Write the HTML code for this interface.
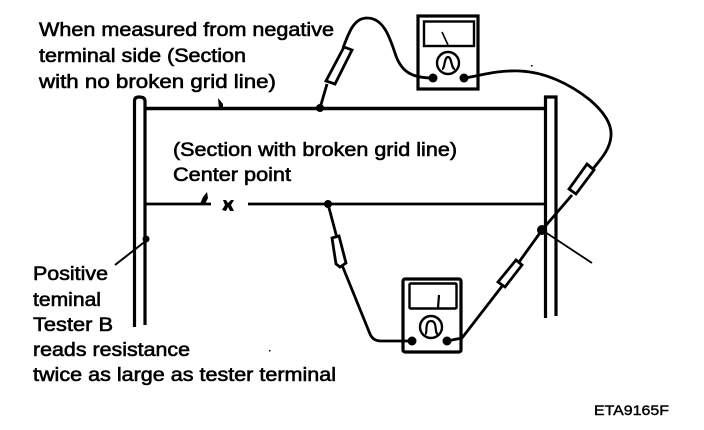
<!DOCTYPE html>
<html>
<head>
<meta charset="utf-8">
<style>
html,body{margin:0;padding:0;background:#fff;width:704px;height:430px;overflow:hidden}
svg{display:block}
text{font-family:"Liberation Sans",sans-serif;font-size:19.5px;fill:#000;stroke:#000;stroke-width:.6px}
</style>
</head>
<body>
<svg width="704" height="430" viewBox="0 0 704 430" xmlns="http://www.w3.org/2000/svg">
<rect width="704" height="430" fill="#fff"/>
<g fill="none" stroke="#000" stroke-width="3">
  <!-- bars -->
  <path d="M134.500 327V101Q134.500 97 139 97Q145 97 145 101V325" stroke-width="3.200"/>
  <path d="M545.500 318V97H556V316" stroke-width="3.200"/>
  <!-- grid lines -->
  <path d="M146 108.500H545" stroke-width="3.400"/>
  <path d="M146 204H211M248 204H545" stroke-width="2.800"/>
  <!-- upper meter wires -->
  <path d="M433 78C412 78 402 72 396 56C390 38 384 18 367 18C354 18 349 32 343 48" stroke-width="2.800"/>
  <path d="M327 84L320 108" stroke-width="2.800"/>
  <path d="M464 78C480 76 495 70 520 71C545 72 570 84 590 100C604 112 612 124 611 136C610 150 600 160 592 170" stroke-width="2.800"/>
  <path d="M572 195L542 230L504 283M520 263L462 338L447 341" stroke-width="2.800"/>
  <!-- lower meter wire -->
  <path d="M328 204L337 238M342 265L370 334Q373 341 381 341H412" stroke-width="2.800"/>
  <!-- probes -->
  <path d="M344 47L352 50L335 84L326 81Z" fill="#fff" stroke-width="2.800"/>
  <path d="M332 238L339 236L346 263L340 267L336 264Z" fill="#fff" stroke-width="2.800"/>
  <path d="M516 260L522 265L505 287L498 282Z" fill="#fff" stroke-width="2.800"/>
  <path d="M587 164L594 170L576 194L569 189Z" fill="#fff" stroke-width="2.800"/>
  <!-- leaders -->
  <path d="M542 230L592 263" stroke-width="1.800"/>
  <path d="M147 240L115 265" stroke-width="2"/>
  <!-- upper meter -->
  <rect x="418" y="16" width="60" height="73" stroke-width="3.200"/>
  <rect x="424" y="21.500" width="50" height="24.500" stroke-width="2.400"/>
  <path d="M442 32L448 45" stroke-width="1.600"/>
  <circle cx="448" cy="63" r="11" stroke-width="2.400"/>
  <path d="M442 69C445 69 444 57 448 57C452 57 451 69 455 69" stroke-width="2.200"/>
  <!-- lower meter -->
  <rect x="403" y="279" width="58" height="73" rx="2" stroke-width="3.200"/>
  <rect x="409.500" y="283.500" width="47" height="25" rx="1" stroke-width="2.400"/>
  <path d="M439 295L438 308" stroke-width="2.200"/>
  <circle cx="431" cy="327" r="11" stroke-width="2.400"/>
  <path d="M425 334C428 334 424 321 431 321C438 321 434 334 438 334" stroke-width="2.200"/>
</g>
<g fill="#000">
  <circle cx="433" cy="78" r="4.500"/>
  <circle cx="464" cy="78" r="4.500"/>
  <circle cx="412" cy="341" r="4.500"/>
  <circle cx="447" cy="341" r="4.500"/>
  <circle cx="320" cy="108" r="4"/>
  <circle cx="328" cy="204" r="4"/>
  <circle cx="542" cy="230" r="5"/>
  <circle cx="146" cy="239" r="3.500"/>
  <path d="M218 98L223 104V109H219Z"/>
  <path d="M207 192L208 198L205 204H200L203 197Z"/>
  <path d="M223 200L226 200L228 203L231 200L234 200L231 205L234 211L230 211L228 207L226 211L222 210L225 205Z"/>
  <rect x="531" y="65" width="1.500" height="1.500"/>
  <rect x="269" y="350" width="1.500" height="1.500"/>
</g>
<text x="39" y="36" textLength="295" lengthAdjust="spacingAndGlyphs">When measured from negative</text>
<text x="39" y="62" textLength="207" lengthAdjust="spacingAndGlyphs">terminal side (Section</text>
<text x="39" y="88" textLength="237" lengthAdjust="spacingAndGlyphs">with no broken grid line)</text>
<text x="173" y="156" textLength="284" lengthAdjust="spacingAndGlyphs">(Section with broken grid line)</text>
<text x="173" y="181" textLength="118" lengthAdjust="spacingAndGlyphs">Center point</text>
<text x="33" y="280" textLength="75" lengthAdjust="spacingAndGlyphs">Positive</text>
<text x="33" y="306" textLength="68" lengthAdjust="spacingAndGlyphs">teminal</text>
<text x="33" y="331" textLength="80" lengthAdjust="spacingAndGlyphs">Tester B</text>
<text x="33" y="356" textLength="157" lengthAdjust="spacingAndGlyphs">reads resistance</text>
<text x="33" y="381" textLength="303" lengthAdjust="spacingAndGlyphs">twice as large as tester terminal</text>
<text x="594" y="415" textLength="75" lengthAdjust="spacingAndGlyphs" style="font-size:13.500px;stroke-width:.4px">ETA9165F</text>
</svg>
</body>
</html>
